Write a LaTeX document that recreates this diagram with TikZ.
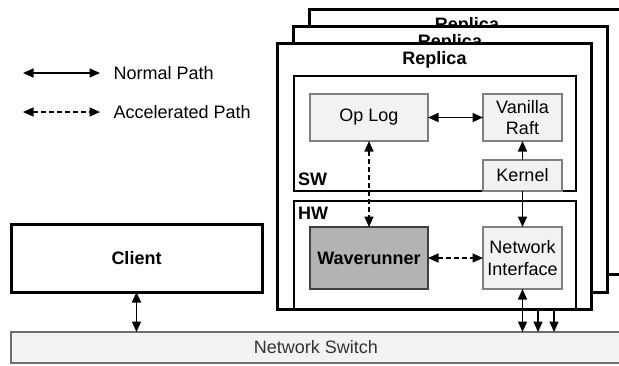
\documentclass[tikz,border=0pt]{standalone}
\usepackage{fontspec}
\setmainfont{Liberation Sans}
\usetikzlibrary{arrows.meta}
\definecolor{lightfill}{HTML}{F2F2F2}
\definecolor{boxedge}{HTML}{808080}
\definecolor{accelfill}{HTML}{B3B3B3}
\definecolor{acceledge}{HTML}{404040}
\definecolor{switchedge}{HTML}{6E6E6E}
\definecolor{switchtext}{HTML}{333333}
\tikzset{
  txt/.style={font=\fontsize{18}{21.5}\selectfont},
  btxt/.style={font=\fontsize{18}{21.5}\selectfont\bfseries},
  frame/.style={draw=black, line width=3pt, fill=white, anchor=north west,
    inner sep=0pt, outer sep=0pt},
  layer/.style={draw=black, line width=1.3pt, fill=white, anchor=north west,
    inner sep=0pt, outer sep=0pt},
  comp/.style={draw=boxedge, line width=1.3pt, fill=lightfill, anchor=north west,
    inner sep=0pt, outer sep=0pt, align=center, txt},
  accel/.style={draw=acceledge, line width=1.3pt, fill=accelfill, anchor=north west,
    inner sep=0pt, outer sep=0pt, btxt},
  tip/.style={},
  normal/.style={draw=black, line width=1.5pt,
    arrows={Triangle[length=10.5pt,width=9pt]-Triangle[length=10.5pt,width=9pt]}},
  fwd/.style={draw=black, line width=1.5pt, -{Triangle[length=10.5pt,width=9pt]}},
  fast/.style={normal, dash pattern=on 4.5pt off 3.5pt},
}
\begin{document}
\begin{tikzpicture}[x=1pt,y=-1pt]
\useasboundingbox (0,0) rectangle (619,365);
\begin{scope}
\clip (0,0) rectangle (619,365);

% legend
\coordinate (la) at (23,73);
\coordinate (lb) at (100,73);
\coordinate (lc) at (23,112);
\coordinate (ld) at (100,112);
\draw[normal] (la) -- (lb);
\draw[fast] (lc) -- (ld);
\node[txt, anchor=west] (lnormal) at (110,73) {Normal Path};
\node[txt, anchor=west] (lfast) at (110,112) {Accelerated Path};

% stacked replicas, back to front
\node[frame, minimum width=316pt, minimum height=265pt] (rep3) at (309,9) {};
\node[btxt] (rep3lbl) at (467,26) {Replica};
\node[frame, minimum width=314pt, minimum height=266pt] (rep2) at (293,26) {};
\node[btxt] (rep2lbl) at (450,43) {Replica};
\node[frame, minimum width=314pt, minimum height=266pt] (rep1) at (277,43) {};
\node[btxt] (rep1lbl) at (434.5,60) {Replica};

% software and hardware layers
\node[layer, minimum width=282pt, minimum height=115pt] (sw) at (294,76) {};
\node[layer, minimum width=282pt, minimum height=108pt] (hw) at (294,201) {};
\draw[black, line width=3pt] (rep1.south west) -- (rep1.south east);
\node[btxt, anchor=west, inner sep=0pt] (swlbl) at (298,179) {SW};
\node[btxt, anchor=west, inner sep=0pt] (hwlbl) at (298,213) {HW};

% components
\node[comp, minimum width=118pt, minimum height=47pt] (oplog) at (310,94) {Op Log};
\node[comp, minimum width=79pt, minimum height=47pt] (raft) at (483,94)
  {Vanilla\\[-1pt]Raft};
\node[comp, minimum width=79pt, minimum height=31pt] (kernel) at (483,160) {Kernel};
\node[accel, minimum width=118pt, minimum height=62pt] (wave) at (310,227) {Waverunner};
\node[comp, minimum width=79pt, minimum height=62pt] (nic) at (483,227)
  {Network\\[0pt]Interface};

% client and switch
\node[frame, minimum width=251pt, minimum height=68pt] (client) at (11,224) {};
\node[btxt] (clientlbl) at (client.center) {Client};
\node[draw=switchedge, line width=2.5pt, fill=lightfill, anchor=north west,
  inner sep=0pt, outer sep=0pt, minimum width=620pt, minimum height=31pt]
  (switch) at (11,332) {};
\node[txt, text=switchtext] (switchlbl) at (316,347.5) {Network Switch};

% connectors
\draw[normal] (oplog.east) -- (raft.west);
\draw[fwd] (kernel.north) -- (raft.south);
\draw[fwd] (kernel.south) -- (nic.north);
\draw[fast] (oplog.south) -- (wave.north);
\draw[fast] (wave.east) -- (nic.west);
\draw[normal] (nic.south) -- (nic.south |- switch.north);
\draw[normal] (client.south) -- (client.south |- switch.north);
\coordinate (port2) at (538,309);
\coordinate (port3) at (554,309);
\draw[fwd] (port2) -- (port2 |- switch.north);
\draw[fwd] (port3) -- (port3 |- switch.north);
\end{scope}
\end{tikzpicture}
\end{document}
